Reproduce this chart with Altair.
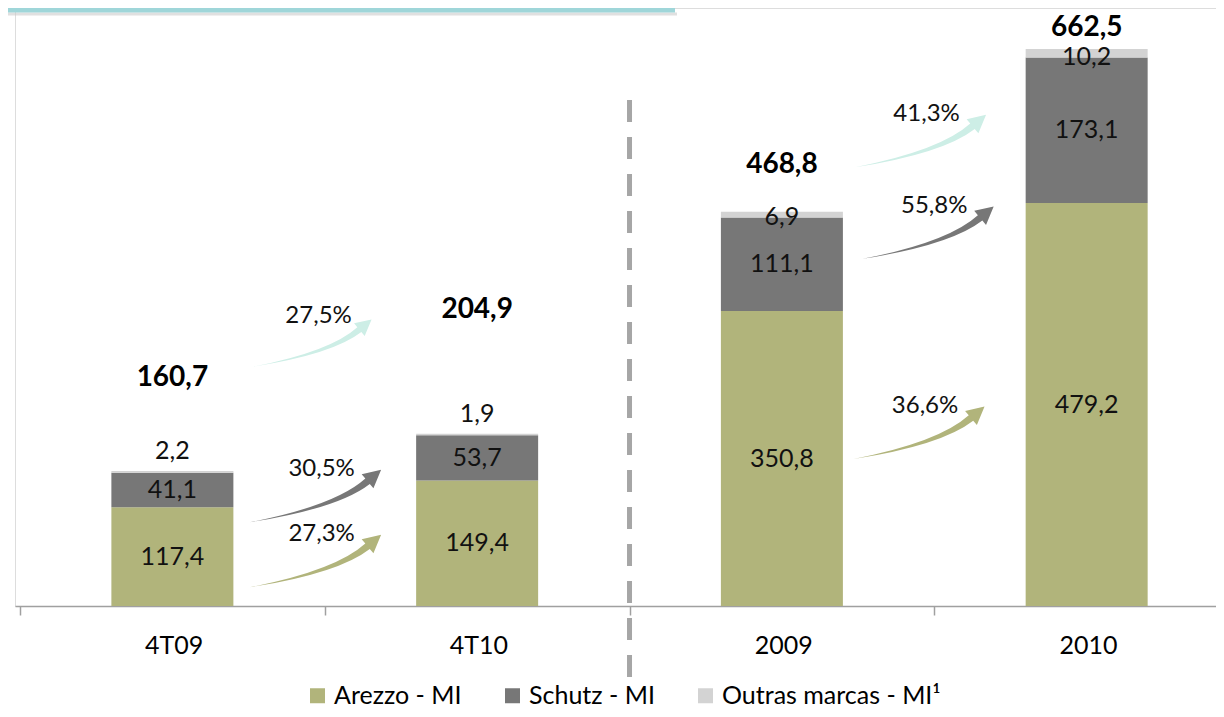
import altair as alt
import pandas as pd

# ---------------- data ----------------
categories = ["4T09", "4T10", "2009", "2010"]
series = ["Arezzo - MI", "Schutz - MI", "Outras marcas - MI¹"]
arezzo = [117.4, 149.4, 350.8, 479.2]
schutz = [41.1, 53.7, 111.1, 173.1]
outras = [2.2, 1.9, 6.9, 10.2]
totals = [160.7, 204.9, 468.8, 662.5]

# growth between (4T09 -> 4T10) and (2009 -> 2010)
growth_from = [0, 2]
growth_arezzo = ["27,3%", "36,6%"]
growth_schutz = ["30,5%", "55,8%"]
growth_total = ["27,5%", "41,3%"]

# ---------------- layout / style ----------------
series_colors = ["#B1B47B", "#777777", "#D3D3D3"]
teal_arrow = "#CDEEE6"
total_label_lift = [110, 147, 56, 25]          # value units above bar top
outras_label_shift = [23.6, 23.5, -6.2, -9.0]  # value units from bar top
arrow_lift = {  # value-unit height of arrow centres, per growth pair
    "arezzo": [53.5, 206],
    "schutz": [130.8, 444],
    "total": [312.8, 553],
}
arrow_span = {"arezzo": [131, 131], "schutz": [131, 131], "total": [118, 131]}
arrow_x = {"arezzo": [0.47, 0.45], "schutz": [0.47, 0.48], "total": [0.46, 0.455]}
ARROW_PATH = ("M -1 0.4 Q 0.306 0.144 0.759 -0.267 L 0.703 -0.333 L 1 -0.4 "
              "L 0.883 -0.119 L 0.827 -0.185 Q 0.344 0.19 -1 0.4 Z")

FONT = "Lato"
W, H = 1201, 598
X_DOM = [-0.5, 3.408]
Y_DOM = [0, 711.2]
PX_PER_CAT = W / (X_DOM[1] - X_DOM[0])


def fmt(v):
    return f"{v:.1f}".replace(".", ",")


# ---------------- tables ----------------
rows = []
for i, cat in enumerate(categories):
    vals = [arezzo[i], schutz[i], outras[i]]
    base = 0.0
    for k, (s, v) in enumerate(zip(series, vals)):
        if k < 2:
            ly = base + v / 2
        else:
            ly = totals[i] + outras_label_shift[i]
        rows.append({"pos": i, "cat": cat, "series": s, "value": v, "order": k,
                     "label": fmt(v), "label_y": ly})
        base += v
bars = pd.DataFrame(rows)

tot_df = pd.DataFrame({"pos": list(range(len(categories))),
                       "label": [fmt(t) for t in totals],
                       "label_y": [t + d for t, d in zip(totals, total_label_lift)]})

arows = []
for j, f in enumerate(growth_from):
    for key, col, labs in (("arezzo", series_colors[0], growth_arezzo),
                           ("schutz", series_colors[1], growth_schutz),
                           ("total", teal_arrow, growth_total)):
        arows.append({"x": f + arrow_x[key][j], "y": arrow_lift[key][j], "color": col,
                      "label": labs[j], "size": arrow_span[key][j] ** 2})
arr_df = pd.DataFrame(arows)

sep_df = pd.DataFrame({"x": [1.5]})

# ---------------- encodings ----------------
xscale = alt.Scale(domain=X_DOM, nice=False, zero=False)
yscale = alt.Scale(domain=Y_DOM, nice=False, zero=True)
label_expr = "[" + ",".join(f"'{c}'" for c in categories) + "][datum.value + 0.5]"
xaxis = alt.Axis(values=[-0.5, 0.5, 1.5, 2.5], labelExpr=label_expr,
                 labelOffset=PX_PER_CAT / 2, labelFlush=False, labelOverlap=False,
                 tickSize=9, tickColor="#A0A0A0", tickWidth=1.5,
                 domainColor="#A0A0A0", domainWidth=1.5,
                 labelFont=FONT, labelFontSize=25, labelColor="#000000",
                 labelPadding=30, labelBaseline="middle", grid=False, title=None)


def X(field):
    return alt.X(f"{field}:Q", scale=xscale, axis=xaxis)


def Y(field, **kw):
    return alt.Y(f"{field}:Q", scale=yscale, axis=None, **kw)


bar_layer = alt.Chart(bars).mark_bar(size=122, orient="vertical").encode(
    x=X("pos"),
    y=Y("value", stack="zero"),
    color=alt.Color("series:N", scale=alt.Scale(domain=series, range=series_colors),
                    legend=alt.Legend(orient="none", legendX=290, legendY=675,
                                      direction="horizontal", title=None,
                                      symbolType="square", symbolSize=225,
                                      symbolStrokeWidth=0, labelFont=FONT,
                                      labelFontSize=25, labelColor="#000000",
                                      labelLimit=500, columnPadding=38,
                                      labelOffset=4, padding=0)),
    order=alt.Order("order:Q"),
)

seg_text = alt.Chart(bars).mark_text(font=FONT, fontSize=25, color="#111111",
                                      baseline="middle").encode(
    x=X("pos"), y=Y("label_y"), text="label:N")

tot_text = alt.Chart(tot_df).mark_text(font=FONT, fontSize=28, fontWeight="bold",
                                        color="#000000", baseline="middle").encode(
    x=X("pos"), y=Y("label_y"), text="label:N")

sep = alt.Chart(sep_df).mark_rule(color="#A6A6A6", strokeWidth=5,
                                   strokeDash=[22, 15]).encode(
    x=X("x"), y=alt.value(92), y2=alt.value(672))

arrows = alt.Chart(arr_df).mark_point(shape=ARROW_PATH, filled=True,
                                       opacity=1, strokeWidth=0).encode(
    x=X("x"), y=Y("y"), color=alt.Color("color:N", scale=None),
    size=alt.Size("size:Q", scale=None))

pct_text = alt.Chart(arr_df).mark_text(font=FONT, fontSize=24, color="#111111",
                                        baseline="middle", dx=6, dy=-27).encode(
    x=X("x"), y=Y("y"), text="label:N")

top_line = alt.Chart(sep_df).mark_rule(color="#9FD6D9", strokeWidth=5).encode(
    x=alt.value(-15), x2=alt.value(660), y=alt.value(2))
top_shadow = alt.Chart(sep_df).mark_rule(color="#CCCCCC", strokeWidth=3, opacity=0.6).encode(
    x=alt.value(-15), x2=alt.value(662), y=alt.value(6))

chart = alt.layer(
    top_shadow, top_line, sep, bar_layer, seg_text, tot_text, arrows, pct_text
).properties(
    width=W, height=H,
    padding={"left": 7, "top": 0, "right": 0, "bottom": 103},
    autosize=alt.AutoSizeParams(type="none"),
).configure_view(stroke=None).configure(font=FONT)

chart.save("out.html", embed_options={"renderer": "svg", "actions": False})
